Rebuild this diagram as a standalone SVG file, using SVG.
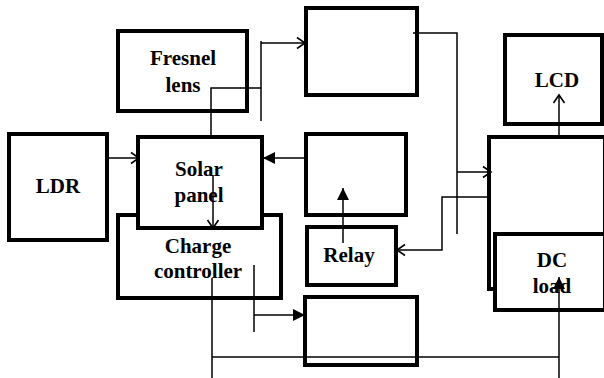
<svg xmlns="http://www.w3.org/2000/svg" width="604" height="378" viewBox="0 0 604 378">
<style>
.box{fill:#fff;stroke:#000;stroke-width:4}
.lbl{font-family:"Liberation Serif","Times New Roman",serif;font-weight:bold;font-size:21px;fill:#000;text-anchor:middle}
.c{fill:none;stroke:#000;stroke-width:1.5}
</style>
<defs>
<marker id="open" markerUnits="userSpaceOnUse" markerWidth="12" markerHeight="14" refX="9" refY="6" orient="auto" viewBox="0 0 12 12">
<path d="M1,0.5 L9,6 L1,11.5" fill="none" stroke="#000" stroke-width="1.6"/>
</marker>
<marker id="fill" markerUnits="userSpaceOnUse" markerWidth="13" markerHeight="13" refX="12" refY="6" orient="auto" viewBox="0 0 13 12">
<path d="M0,0 L12,6 L0,12 Z" fill="#000"/>
</marker>
</defs>
<rect width="604" height="378" fill="#fff"/>
<g id="fresnel">
<rect class="box" x="118" y="31" width="129" height="80"/>
<text class="lbl" x="183" y="65">Fresnel</text>
<text class="lbl" x="183" y="92">lens</text>
</g>
<g id="ldr">
<rect class="box" x="9" y="134" width="98" height="106"/>
<text class="lbl" x="58" y="193">LDR</text>
</g>
<g id="charge">
<rect class="box" x="118" y="215" width="163" height="83"/>
<text class="lbl" x="198" y="253">Charge</text>
<text class="lbl" x="198" y="278">controller</text>
</g>
<g id="solar">
<rect class="box" x="138" y="137" width="124" height="91"/>
<text class="lbl" x="199" y="176">Solar</text>
<text class="lbl" x="199" y="202">panel</text>
</g>
<g id="boxA">
<rect class="box" x="306" y="8" width="111" height="87"/>
</g>
<g id="boxB">
<rect class="box" x="306" y="134" width="100" height="81"/>
</g>
<g id="relay">
<rect class="box" x="307" y="227" width="89" height="58"/>
<text class="lbl" x="349" y="262">Relay</text>
</g>
<g id="boxC">
<rect class="box" x="305" y="297" width="112" height="68"/>
</g>
<g id="lcd">
<rect class="box" x="505" y="35" width="97" height="89"/>
<text class="lbl" x="557" y="87">LCD</text>
</g>
<g id="boxD">
<rect class="box" x="489" y="137" width="116" height="152"/>
</g>
<g id="dcload">
<rect class="box" x="495" y="234" width="110" height="76"/>
<text class="lbl" x="552" y="267">DC</text>
<text class="lbl" x="552" y="293">load</text>
</g>
<g id="connectors">
<line class="c" x1="107" y1="158" x2="139" y2="158" marker-end="url(#open)"/>
<polyline class="c" points="211,137 211,88 261,88"/>
<line class="c" x1="261" y1="41" x2="261" y2="121"/>
<line class="c" x1="261" y1="43" x2="305" y2="43" marker-end="url(#open)"/>
<polyline class="c" points="413,33 457,33 457,234"/>
<line class="c" x1="457" y1="172" x2="491" y2="172" marker-end="url(#open)"/>
<polyline class="c" points="489,197 442,197 442,250 397,250" marker-end="url(#open)"/>
<line class="c" x1="306" y1="158" x2="263" y2="158" marker-end="url(#fill)"/>
<line class="c" x1="343" y1="243" x2="343" y2="188" marker-end="url(#fill)"/>
<line class="c" x1="213" y1="175" x2="213" y2="228" marker-end="url(#open)"/>
<line class="c" x1="212" y1="278" x2="212" y2="378"/>
<line class="c" x1="212" y1="357" x2="559" y2="357"/>
<line class="c" x1="559" y1="378" x2="559" y2="277" marker-end="url(#fill)"/>
<line class="c" x1="254" y1="265" x2="254" y2="332"/>
<line class="c" x1="254" y1="315" x2="305" y2="315" marker-end="url(#fill)"/>
<line class="c" x1="559" y1="137" x2="559" y2="95" marker-end="url(#open)"/>
</g>
</svg>
